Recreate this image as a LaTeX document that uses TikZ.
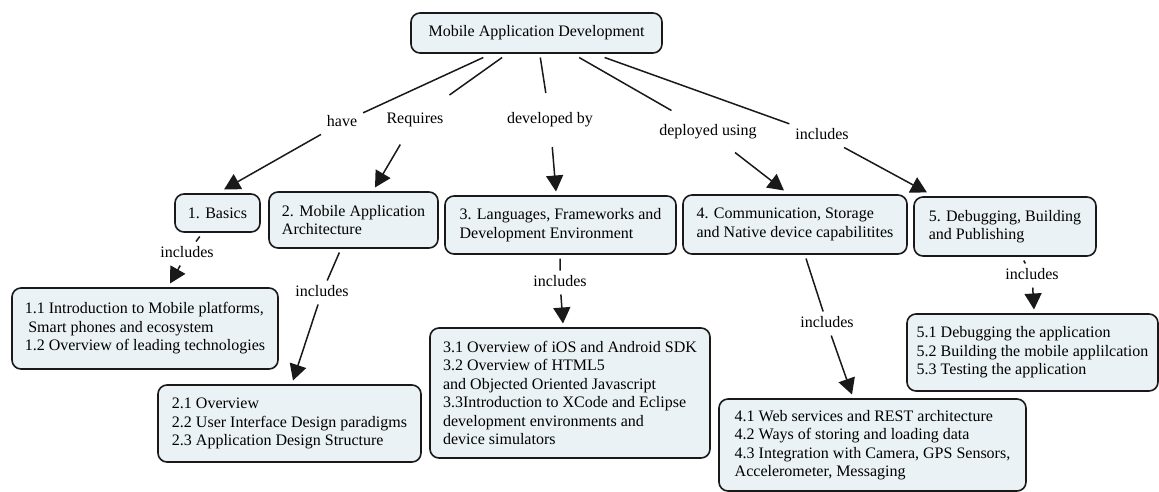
\documentclass[tikz,border=0pt]{standalone}
\usepackage{fontspec}
\setmainfont{Liberation Serif}
\usetikzlibrary{arrows.meta}
\definecolor{boxfill}{RGB}{235,242,245}
\definecolor{ink}{RGB}{25,25,25}
\begin{document}
\begin{tikzpicture}[x=1pt,y=-1pt,
  concept/.style={draw=ink, line width=1.6pt, fill=boxfill, rounded corners=9pt, align=left, outer sep=4.5pt, inner sep=0pt, font=\fontsize{16pt}{18.5pt}\selectfont},
  lbl/.style={inner xsep=6pt, inner ysep=0pt, outer sep=0pt, text height=11pt, text depth=3.5pt, font=\fontsize{16pt}{18.5pt}\selectfont},
  link/.style={draw=ink, line width=1.5pt},
  arr/.style={link, -{Triangle[length=16pt,width=17pt]}}
]
\useasboundingbox (0,0) rectangle (1159,491);

% concepts
\node[concept, minimum width=251pt, minimum height=40pt] (top) at (536.5,33) {Mobile Application Development};
\node[concept, minimum width=85pt, minimum height=38pt] (b1) at (217.5,213) {1. Basics};
\node[concept, minimum width=169pt, minimum height=56pt] (b2) at (353.5,220) {2. Mobile Application\\Architecture};
\node[concept, minimum width=231pt, minimum height=58pt] (b3) at (560.5,225) {3. Languages, Frameworks and\\Development Environment};
\node[concept, minimum width=224pt, minimum height=59pt] (b4) at (795,224.5) {4. Communication, Storage\\and Native device capabilitites};
\node[concept, minimum width=182pt, minimum height=59pt] (b5) at (1005,226.5) {5. Debugging, Building\\and Publishing};

\node[concept, minimum width=266pt, minimum height=81pt] (b11) at (145,328.5) {1.1 Introduction to Mobile platforms,\\\hspace*{3.5pt}Smart phones and ecosystem\\1.2 Overview of leading technologies};
\node[concept, minimum width=263pt, minimum height=77pt] (b21) at (289.5,423.5) {2.1 Overview\\2.2 User Interface Design paradigms\\2.3 Application Design Structure};
\node[concept, minimum width=280pt, minimum height=130pt] (b31) at (570,393) {3.1 Overview of iOS and Android SDK\\3.2 Overview of HTML5\\and Objected Oriented Javascript\\3.3Introduction to XCode and Eclipse\\development environments and\\device simulators};
\node[concept, minimum width=307pt, minimum height=92pt] (b41) at (872.5,445) {4.1 Web services and REST architecture\\4.2 Ways of storing and loading data\\4.3 Integration with Camera, GPS Sensors,\\Accelerometer, Messaging};
\node[concept, minimum width=251pt, minimum height=77pt] (b51) at (1032.5,352.5) {5.1 Debugging the application\\5.2 Building the mobile applilcation\\5.3 Testing the application};

% link labels
\node[lbl, minimum height=24pt] (have) at (342,122.5) {have};
\node[lbl, minimum height=50pt] (req) at (415,119.5) {Requires};
\node[lbl, minimum height=54pt] (dev) at (550,120) {developed by};
\node[lbl, minimum height=42pt] (dep) at (708,131.5) {deployed using};
\node[lbl, minimum height=24pt] (inc) at (822,135.5) {includes};
\node[lbl, minimum height=24pt] (i1) at (187,253.5) {includes};
\node[lbl, minimum height=24pt] (i2) at (322,292.5) {includes};
\node[lbl, minimum height=24pt] (i3) at (560,282.5) {includes};
\node[lbl, minimum height=24pt] (i4) at (827,323.5) {includes};
\node[lbl, minimum height=24pt] (i5) at (1032,275.5) {includes};

% connectors
\draw[link] (top) -- (have);
\draw[arr] (have) -- ([xshift=6.5pt]b1.north);
\draw[link] (top) -- (req);
\draw[arr] (req) -- ([xshift=21.5pt]b2.north);
\draw[link] (top) -- (dev);
\draw[arr] (dev) -- ([xshift=-4.5pt]b3.north);
\draw[link] (top) -- (dep);
\draw[arr] (dep) -- ([xshift=-11pt]b4.north);
\draw[link] (top) -- (inc);
\draw[arr] (inc) -- ([xshift=-78pt]b5.north);

\draw[link] (b1) -- (i1);
\draw[arr] (i1) -- ([xshift=25pt]b11.north);
\draw[link] (b2) -- (i2);
\draw[arr] (i2) -- ([xshift=3.5pt]b21.north);
\draw[link] (b3) -- (i3);
\draw[arr] (i3) -- ([xshift=-7pt]b31.north);
\draw[link] (b4) -- (i4);
\draw[arr] (i4) -- ([xshift=-20.5pt]b41.north);
\draw[link] (b5) -- (i5);
\draw[arr] (i5) -- ([xshift=1.5pt]b51.north);
\end{tikzpicture}
\end{document}
